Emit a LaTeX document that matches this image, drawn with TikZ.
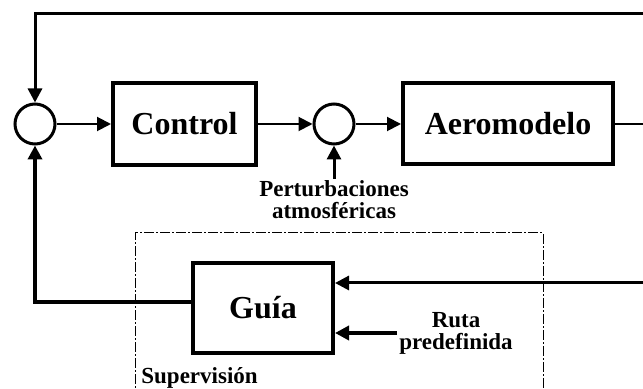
\documentclass[tikz,border=0pt]{standalone}
\usepackage{fontspec}
\setmainfont{Liberation Serif}
\usepackage{tikz}
\usetikzlibrary{arrows.meta,positioning,calc}

\begin{document}
\begin{tikzpicture}[x=0.5pt,y=-0.5pt,
  block/.style={draw,line width=2pt,inner sep=0pt,
    font=\fontsize{16}{18}\selectfont\bfseries},
  sumnode/.style={draw,circle,line width=1.5pt,minimum size=20pt,inner sep=0pt},
  lbl/.style={align=center,inner sep=1pt,
    font=\fontsize{11.5}{11}\selectfont\bfseries},
  arrow/.style={-{Triangle[length=7pt,width=7pt]}},
]
  \useasboundingbox (0,0) rectangle (643,389);
  \clip (0,0) rectangle (643,389);

  % forward path
  \node[sumnode] (sum1) at (35,124) {};
  \node[block,minimum width=71.5pt,minimum height=41pt] (control) at (184.5,124) {Control};
  \node[sumnode] (sum2) at (334,124) {};
  \node[block,minimum width=105pt,minimum height=40.5pt] (aero) at (508,124) {Aeromodelo};
  \node[lbl] (pert) at (334,200) {Perturbaciones\\atmosféricas};

  % supervision
  \node[block,minimum width=70pt,minimum height=45pt] (guia) at (263,308) {Guía};
  \node[lbl,anchor=west] (ruta) at (397,333) {Ruta\\predefinida};
  \node[lbl,anchor=west] (superv) at (139,378) {Supervisión};
  \draw[line width=0.5pt,dash pattern=on 5pt off 1.2pt on 0.6pt off 1.2pt]
    (135,400) -- (135,233) -- (543,233) -- (543,400);

  \coordinate (topR) at (643,14);
  \coordinate (outR) at (643,124);
  \coordinate (fbR) at (643,283);

  \draw[arrow,line width=1pt] (sum1) -- (control);
  \draw[arrow,line width=1pt] (control) -- (sum2);
  \draw[arrow,line width=1pt] (sum2) -- (aero);
  \draw[line width=1pt] (aero.east) -- (outR);
  \draw[arrow,line width=1.5pt] (topR) -| (sum1.north);
  \draw[arrow,line width=1.5pt] (pert.north) -- (sum2.south);
  \draw[arrow,line width=2pt] ($(guia.west)+(0,-6)$) -| (sum1.south);
  \draw[arrow,line width=1.5pt] (fbR) -- (guia.east |- fbR);
  \draw[arrow,line width=2pt] (ruta.west) -- (guia.east |- ruta.west);
\end{tikzpicture}
\end{document}
